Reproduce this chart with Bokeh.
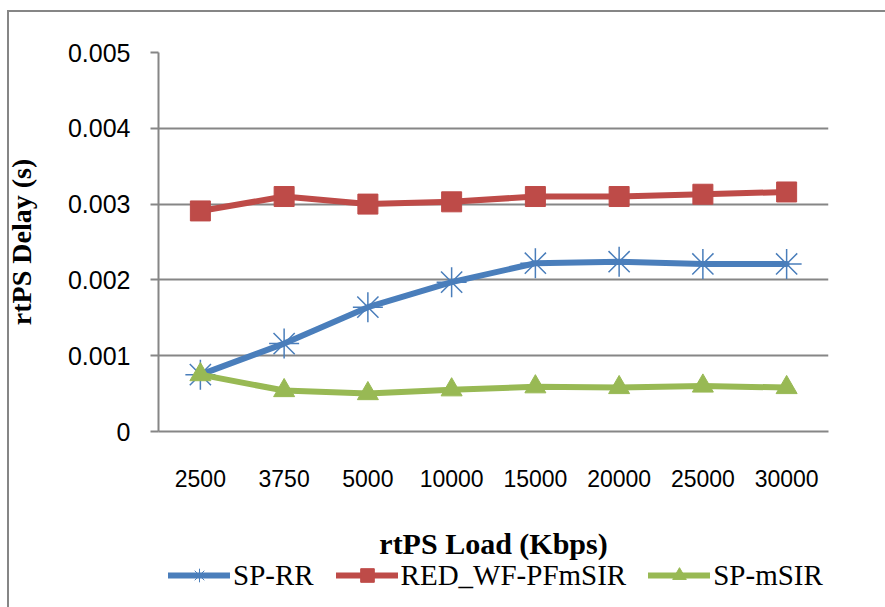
from bokeh.plotting import figure
from bokeh.layouts import column
from bokeh.models import (FactorRange, Range1d, FixedTicker, CustomJSTickFormatter,
                          Legend, LegendItem)
from bokeh.embed import file_html
from bokeh.resources import INLINE

loads = ["2500", "3750", "5000", "10000", "15000", "20000", "25000", "30000"]
sp_rr = [0.00075, 0.00116, 0.00164, 0.00197, 0.00222, 0.00224, 0.00221, 0.00221]
red_wf = [0.00291, 0.00310, 0.00300, 0.00303, 0.00310, 0.00310, 0.00313, 0.00316]
sp_msir = [0.00075, 0.00054, 0.00050, 0.00055, 0.00059, 0.00058, 0.00060, 0.00058]
y_ticks = [0, 0.001, 0.002, 0.003, 0.004, 0.005]
series = [("SP-RR", sp_rr), ("RED_WF-PFmSIR", red_wf), ("SP-mSIR", sp_msir)]

GRID = "#868686"
COLORS = ["#4a7ebb", "#be4b48", "#98b954"]
MARKERS = [dict(marker="asterisk", size=30, line_width=1.5),
           dict(marker="square", size=20),
           dict(marker="triangle", size=21)]

p = figure(width=885, height=575, output_backend="svg", toolbar_location=None,
           x_range=FactorRange(factors=loads, range_padding=0),
           y_range=Range1d(0, 0.005),
           min_border_left=158, min_border_right=57,
           min_border_top=52, min_border_bottom=144)
p.outline_line_color = None
p.background_fill_color = "white"
p.border_fill_color = "white"

# axes
p.yaxis.ticker = FixedTicker(ticks=y_ticks)
p.yaxis.formatter = CustomJSTickFormatter(code="return tick == 0 ? '0' : tick.toFixed(3);")
p.yaxis.major_label_text_font = "Liberation Sans"
p.yaxis.major_label_text_font_size = "25px"
p.yaxis.major_label_text_color = "black"
p.yaxis.major_tick_out = 8
p.yaxis.major_tick_in = 0
p.yaxis.minor_tick_line_color = None
p.yaxis.major_tick_line_color = GRID
p.yaxis.major_tick_line_width = 2
p.yaxis.axis_line_color = GRID
p.yaxis.axis_line_width = 2
p.yaxis.major_label_standoff = 20
p.yaxis.axis_label = "rtPS Delay (s)"
p.yaxis.axis_label_text_font = "Liberation Serif"
p.yaxis.axis_label_text_font_style = "bold"
p.yaxis.axis_label_text_font_size = "28px"
p.yaxis.axis_label_text_color = "black"
p.yaxis.axis_label_standoff = 28

p.xaxis.major_label_text_font = "Liberation Sans"
p.xaxis.major_label_text_font_size = "23px"
p.xaxis.major_label_text_color = "black"
p.xaxis.major_tick_line_color = None
p.xaxis.minor_tick_line_color = None
p.xaxis.major_tick_out = 0
p.xaxis.major_tick_in = 0
p.xaxis.axis_line_color = GRID
p.xaxis.axis_line_width = 2
p.xaxis.major_label_standoff = 38
p.xaxis.axis_label = "rtPS Load (Kbps)"
p.xaxis.axis_label_text_font = "Liberation Serif"
p.xaxis.axis_label_text_font_style = "bold"
p.xaxis.axis_label_text_font_size = "30px"
p.xaxis.axis_label_text_color = "black"
p.xaxis.axis_label_standoff = 37

p.xgrid.grid_line_color = None
p.ygrid.ticker = FixedTicker(ticks=y_ticks)
p.ygrid.grid_line_color = GRID
p.ygrid.grid_line_width = 2

for (name, vals), color, mk in zip(series, COLORS, MARKERS):
    p.line(loads, vals, line_color=color, line_width=6, line_join="round", line_cap="round")
    p.scatter(loads, vals, fill_color=color, line_color=color, **mk)

# legend strip below the chart (same series, drawn outside its visible range)
pl = figure(width=885, height=52, output_backend="svg", toolbar_location=None,
            x_range=FactorRange(factors=loads, range_padding=0),
            y_range=Range1d(1, 2), x_axis_location=None, y_axis_location=None,
            min_border_left=0, min_border_right=0, min_border_top=0, min_border_bottom=0)
pl.margin = (-20, 0, 0, 0)
pl.outline_line_color = None
pl.grid.grid_line_color = None
pl.background_fill_alpha = 0
pl.border_fill_alpha = 0
items = []
for (name, vals), color, mk in zip(series, COLORS, MARKERS):
    mk_leg = dict(mk)
    mk_leg["line_width"] = 1
    rl = pl.line(loads, vals, line_color=color, line_width=6, line_cap="round")
    rm = pl.scatter(loads, vals, fill_color=color, line_color=color, **mk_leg)
    items.append(LegendItem(label=name, renderers=[rl, rm]))

legend = Legend(items=items, orientation="horizontal", location=(10, 15),
                label_text_font="Liberation Serif", label_text_font_size="29px",
                label_text_color="black",
                glyph_width=62, glyph_height=34, label_height=34, label_standoff=3,
                spacing=22, padding=0, margin=0,
                border_line_color=None, background_fill_alpha=0)
pl.add_layout(legend, "center")

layout = column(p, pl, spacing=0)
# outer chart border (only the left and top edges are visible in the reference)
layout.stylesheets = [":host { position: relative; }",
                      ":host::after { content: ''; position: absolute; left: 7px; top: 10px; "
                      "right: 0px; bottom: 0px; border-left: 2px solid #868686; "
                      "border-top: 2px solid #868686; pointer-events: none; }"]

open("out.html", "w").write(file_html(layout, INLINE))
